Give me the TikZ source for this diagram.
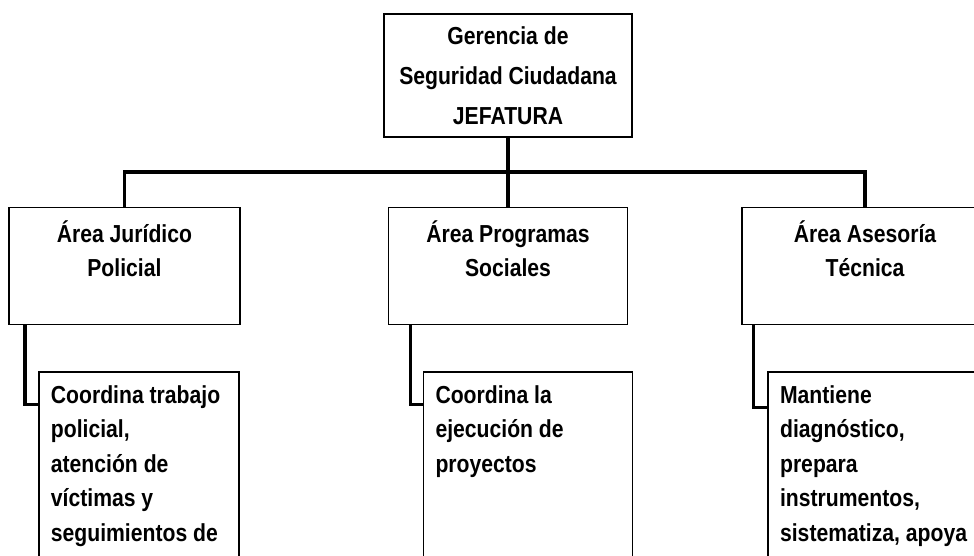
\documentclass[tikz,border=0pt]{standalone}
\usepackage{fontspec}
\setmainfont[FakeStretch=0.86]{Liberation Sans}
\usepackage{tikz}
\usetikzlibrary{positioning}
\tikzset{
  jefebox/.style ={draw,line width=0.9pt,minimum width=4.96cm,minimum height=2.46cm,
                   align=center,inner sep=0pt,font=\fontsize{14pt}{22.7pt}\selectfont\bfseries},
  areabox/.style ={draw,line width=0.9pt,minimum height=2.34cm,align=center,inner sep=0pt},
  tareabox/.style={draw,line width=0.9pt,inner xsep=0.24cm,inner ysep=0.27cm},
  bus/.style     ={line width=2pt}
}
\newcommand{\tareatxt}[2]{\parbox[t][4.4cm][t]{#1}{\raggedright #2}}

\begin{document}
\begin{tikzpicture}[every node/.style={font=\fontsize{14pt}{19.6pt}\selectfont\bfseries},
                    node distance=1.38cm]
  \useasboundingbox (0,0) rectangle (19.48,-11.12);
  \clip (0,0) rectangle (19.48,-11.12);
  % jefatura y areas
  \node[jefebox] (jefe) at (10.16,-1.51) {Gerencia de\\Seguridad Ciudadana\\JEFATURA};
  \node[areabox,minimum width=4.78cm,below=of jefe] (prog) {Área Programas\\Sociales\\~};
  \node[areabox,minimum width=4.62cm,left=2.94cm of prog] (jur) {Área Jurídico\\Policial\\~};
  \node[areabox,minimum width=4.92cm,right=2.26cm of prog] (ase) {Área Asesoría\\Técnica\\~};
  % tareas
  \node[tareabox,below right=0.92cm and 0.6cm of jur.south west] (tjur)
       {\tareatxt{3.52cm}{Coordina trabajo\\policial,\\atención de\\víctimas y\\seguimientos de}};
  \node[tareabox,below right=0.92cm and 0.7cm of prog.south west] (tprog)
       {\tareatxt{3.70cm}{Coordina la\\ejecución de\\proyectos}};
  \node[tareabox,below right=0.92cm and 0.52cm of ase.south west] (tase)
       {\tareatxt{3.92cm}{Mantiene\\diagnóstico,\\prepara\\instrumentos,\\sistematiza, apoya}};
  % lineas
  \draw[bus] (jefe) -- (prog);
  \draw[bus] (jur.north) -- ++(0,0.7) -| (ase.north);
  \draw[bus] ([xshift=0.34cm]jur.south west) |- ([yshift=-0.66cm]tjur.north west);
  \draw[bus] ([xshift=0.46cm]prog.south west) |- ([yshift=-0.66cm]tprog.north west);
  \draw[bus] ([xshift=0.24cm]ase.south west) |- ([yshift=-0.72cm]tase.north west);
\end{tikzpicture}
\end{document}
